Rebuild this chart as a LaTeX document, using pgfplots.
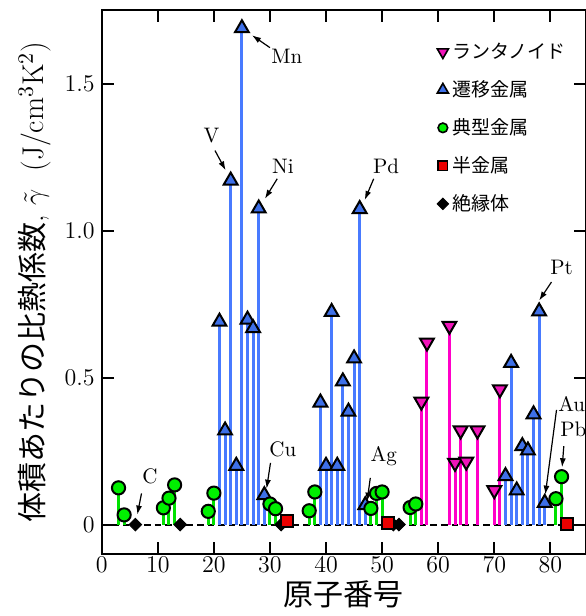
\documentclass[border=0pt]{standalone}
\usepackage{fontspec}
\usepackage{pgfplots}
\pgfplotsset{compat=1.18}
\usetikzlibrary{calc,arrows.meta}
\newfontfamily\jp{Noto Sans CJK JP}

\definecolor{stemblue}{RGB}{72,122,255}
\definecolor{fillblue}{RGB}{62,112,232}
\definecolor{stemgreen}{RGB}{0,225,0}
\definecolor{fillgreen}{RGB}{0,240,0}
\definecolor{stemmag}{RGB}{255,0,200}
\definecolor{fillmag}{RGB}{240,20,185}
\definecolor{fillred}{RGB}{235,0,0}

% Z  gamma
\pgfplotstableread{
Z gamma
3  0.125
4  0.033
11 0.057
12 0.090
13 0.135
19 0.045
20 0.107
30 0.070
31 0.054
37 0.047
38 0.111
48 0.055
49 0.106
50 0.111
55 0.058
56 0.070
81 0.088
82 0.163
}\typical
\pgfplotstableread{
Z gamma
21 0.690
22 0.320
23 1.170
24 0.200
25 1.688
26 0.697
27 0.668
28 1.075
29 0.100
39 0.415
40 0.200
41 0.723
42 0.200
43 0.487
44 0.384
45 0.565
46 1.073
47 0.066
72 0.165
73 0.550
74 0.116
75 0.267
76 0.252
77 0.375
78 0.725
79 0.074
}\transition
\pgfplotstableread{
Z gamma
57 0.418
58 0.619
62 0.676
63 0.210
64 0.320
65 0.214
67 0.320
70 0.117
71 0.460
}\lanth
\pgfplotstableread{
Z gamma
33 0.012
51 0.004
83 0.001
}\semi
\pgfplotstableread{
Z gamma
6  0
14 0
32 0
52 0
53 0
}\insul

\begin{document}
\begin{tikzpicture}
\begin{axis}[
  name=ax,
  scale only axis,
  width=242pt, height=272pt,
  xmin=0, xmax=86.3,
  ymin=-0.1, ymax=1.75,
  axis line style={line width=1pt},
  every tick/.style={black, line width=1pt},
  major tick length=6pt,
  tick align=inside,
  xtick={0,10,...,80},
  ytick={0,0.5,1,1.5},
  yticklabels={0,0.5,1.0,1.5},
  tick label style={font=\fontsize{12}{14}\selectfont},
  xticklabel style={yshift=2pt},
  xlabel={\jp 原子番号},
  ylabel={{\jp 体積あたりの比熱係数}, $\tilde{\gamma}$\ \ (J/cm$^3$K$^2$)},
  label style={font=\fontsize{15}{18}\selectfont},
  xlabel style={yshift=3pt},
  clip=false,
  legend style={at={(0.68,0.955)}, anchor=north west, draw=none, fill=none,
    font=\jp\fontsize{9.5}{11}\selectfont, row sep=5.5pt},
  legend cell align=left,
]
\coordinate (bl) at (rel axis cs:0,0);
\coordinate (tr) at (rel axis cs:1,1);

\addlegendimage{only marks, mark=triangle*, mark size=3.2pt, mark options={rotate=180, fill=fillmag, draw=black, line width=0.8pt}}
\addlegendentry{ランタノイド}
\addlegendimage{only marks, mark=triangle*, mark size=3.2pt, mark options={fill=fillblue, draw=black, line width=0.8pt}}
\addlegendentry{遷移金属}
\addlegendimage{only marks, mark=*, mark size=2.4pt, mark options={fill=fillgreen, draw=black, line width=0.8pt}}
\addlegendentry{典型金属}
\addlegendimage{only marks, mark=square*, mark size=2.3pt, mark options={fill=fillred, draw=black, line width=0.8pt}}
\addlegendentry{半金属}
\addlegendimage{only marks, mark=square*, mark size=2pt, mark options={rotate=45, fill=black, draw=black, line width=0.5pt}}
\addlegendentry{絶縁体}

% baseline
\addplot[forget plot, black, line width=1pt, dash pattern=on 3.3pt off 2pt] coordinates {(0,0) (86.3,0)};

% stems
\addplot[forget plot, ycomb, draw=stemblue, line width=1.5pt, no markers] table[x=Z, y=gamma] {\transition};
\addplot[forget plot, ycomb, draw=stemmag, line width=1.5pt, no markers] table[x=Z, y=gamma] {\lanth};
\addplot[forget plot, ycomb, draw=stemgreen, line width=1.5pt, no markers] table[x=Z, y=gamma] {\typical};

% markers
\addplot[forget plot, only marks, mark=square*, mark size=2.2pt, mark options={rotate=45, fill=black, draw=black, line width=0.5pt}] table[x=Z, y=gamma] {\insul};
\addplot[forget plot, only marks, mark=square*, mark size=3pt, mark options={fill=fillred, draw=black, line width=1pt}] table[x=Z, y=gamma] {\semi};
\addplot[forget plot, only marks, mark=triangle*, mark size=4pt, mark options={rotate=180, fill=fillmag, draw=black, line width=1pt}] table[x=Z, y=gamma] {\lanth};
\addplot[forget plot, only marks, mark=triangle*, mark size=4pt, mark options={fill=fillblue, draw=black, line width=1pt}] table[x=Z, y=gamma] {\transition};
\addplot[forget plot, only marks, mark=*, mark size=3.3pt, mark options={fill=fillgreen, draw=black, line width=1pt}] table[x=Z, y=gamma] {\typical};

% element labels
\begin{scope}[font=\fontsize{10.5}{12}\selectfont]
\node at (axis cs:33.0,1.592) {Mn};
\node at (axis cs:19.6,1.323) {V};
\node at (axis cs:32.3,1.217) {Ni};
\node at (axis cs:50.7,1.220) {Pd};
\node at (axis cs:32.3,0.256) {Cu};
\node at (axis cs:8.6,0.164) {C};
\node at (axis cs:50.3,0.232) {Ag};
\node at (axis cs:82.0,0.873) {Pt};
\node at (axis cs:83.8,0.409) {Au};
\node at (axis cs:84.1,0.324) {Pb};
\end{scope}
\begin{scope}[line width=0.6pt, -{Latex[length=4.5pt,width=3pt]}]
\draw (axis cs:30.0,1.622) -- (axis cs:26.8,1.664);
\draw (axis cs:20.2,1.272) -- (axis cs:22.1,1.205);
\draw (axis cs:31.3,1.176) -- (axis cs:29.1,1.108);
\draw (axis cs:48.5,1.176) -- (axis cs:46.9,1.104);
\draw (axis cs:30.1,0.210) -- (axis cs:29.4,0.122);
\draw (axis cs:7.1,0.106) -- (axis cs:6.35,0.034);
\draw (axis cs:47.9,0.159) -- (axis cs:47.3,0.078);
\draw (axis cs:80.2,0.825) -- (axis cs:78.0,0.762);
\draw (axis cs:81.1,0.390) -- (axis cs:79.1,0.102);
\draw (axis cs:82.4,0.267) -- (axis cs:82.1,0.195);
\end{scope}
\end{axis}
\pgfresetboundingbox
\path ($(bl)+(-50.85pt,-31pt)$) rectangle ($(tr)+(0pt,5pt)$);
\end{tikzpicture}
\end{document}
